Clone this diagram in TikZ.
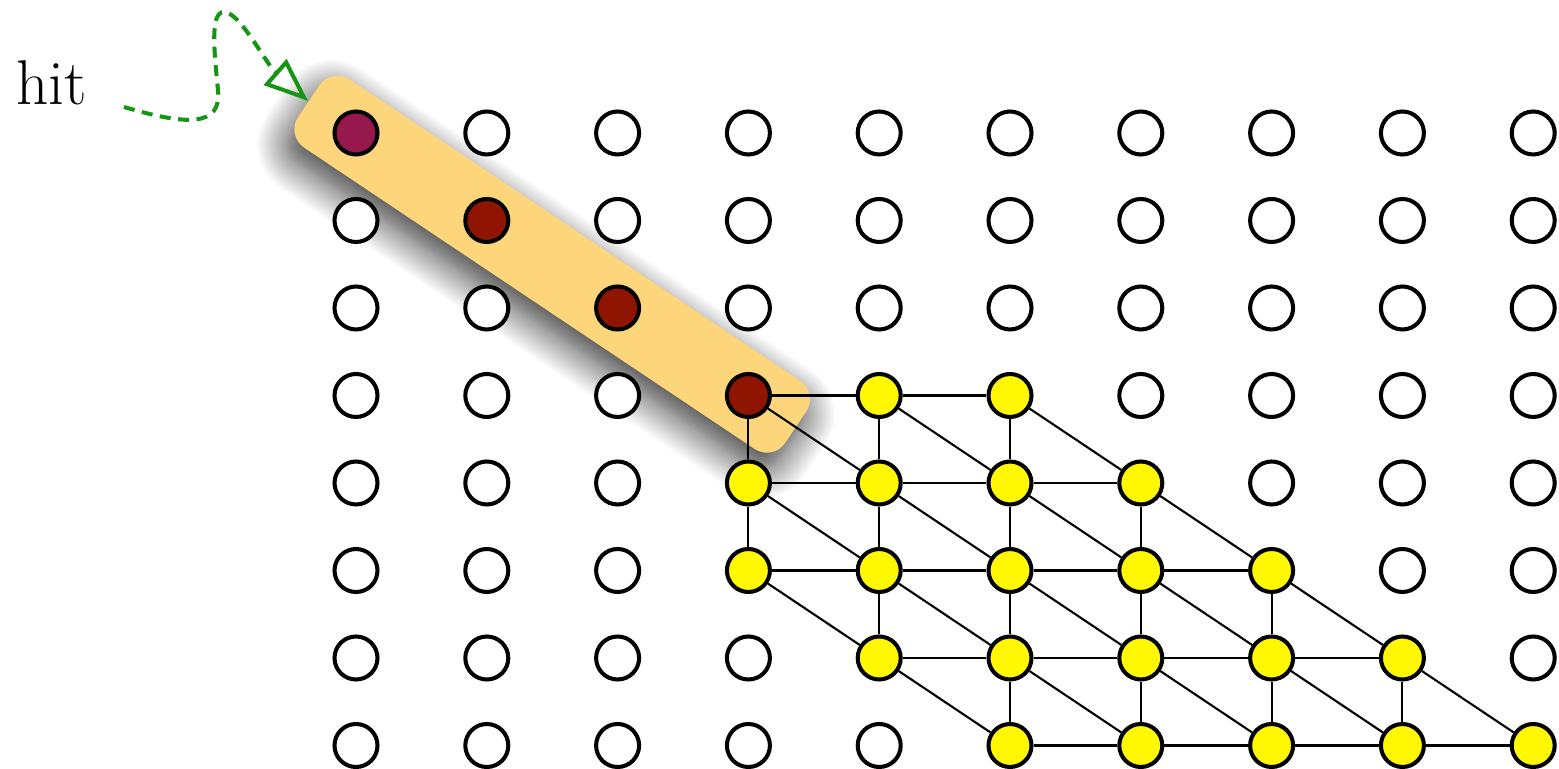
\documentclass[tikz,border=0pt]{standalone}
\usepackage{xcolor}
\usepackage{tikz}
\usetikzlibrary{arrows.meta,backgrounds,shadows.blur}
\definecolor{seedpurple}{RGB}{150,24,77}
\definecolor{hitred}{RGB}{144,21,0}
\definecolor{active}{RGB}{255,248,0}
\definecolor{bandorange}{RGB}{253,213,122}
\definecolor{hitgreen}{RGB}{20,150,20}

\begin{document}
\begin{tikzpicture}[
    site/.style={circle, draw, line width=1.15pt, minimum size=0.43cm, inner sep=0pt, fill=white},
    activesite/.style={site, fill=active},
    hitsite/.style={site, fill=hitred},
    seedsite/.style={site, fill=seedpurple},
    link/.style={draw, line width=0.6pt},
    hitband/.style={rectangle, fill=bandorange, rounded corners=0.22cm, minimum width=5.86cm, minimum height=0.82cm, inner sep=0pt, blur shadow={shadow xshift=-0.06cm, shadow yshift=-0.15cm, shadow blur radius=0.32cm, shadow opacity=80, shadow blur steps=24}},
    hitarrow/.style={-{Triangle[open, length=0.44cm, width=0.34cm]}, line width=1.15pt, draw=hitgreen, dash pattern=on 0.11cm off 0.075cm},
]
\useasboundingbox (0,0) rectangle (15.59,-7.69);

% === GRID OF SITES ===
\foreach \c in {0,...,9}{
  \foreach \r in {0,...,7}{
    \def\kind{site}
    \ifnum\r>2 \ifnum\c>2
      \pgfmathtruncatemacro\lo{\r-\c}
      \ifnum\lo<3 \ifnum\c<\numexpr\r+3\relax \def\kind{activesite}\fi\fi
    \fi\fi
    \ifnum\c=\r \ifnum\c<4 \def\kind{hitsite}\fi\fi
    \ifnum\c=0 \ifnum\r=0 \def\kind{seedsite}\fi\fi
    \node[\kind] (n-\c-\r) at (3.56+\c*1.308, -1.33-\r*0.875) {};
  }
}

% === HORIZONTAL LINKS ===
\foreach \r/\a/\b in {3/3/5,4/3/6,5/3/7,6/4/8,7/5/9}{
  \pgfmathtruncatemacro\bb{\b-1}
  \foreach \c in {\a,...,\bb}{
    \pgfmathtruncatemacro\cc{\c+1}
    \draw[link] (n-\c-\r) -- (n-\cc-\r);
  }
}

% === DIAGONAL AND VERTICAL LINKS ===
\foreach \r/\a/\b/\va/\vb in {3/3/5/3/5,4/3/6/3/6,5/3/7/4/7,6/4/8/5/8}{
  \pgfmathtruncatemacro\rr{\r+1}
  \foreach \c in {\a,...,\b}{
    \pgfmathtruncatemacro\cc{\c+1}
    \draw[link] (n-\c-\r) -- (n-\cc-\rr);
  }
  \foreach \c in {\va,...,\vb}{
    \draw[link] (n-\c-\r) -- (n-\c-\rr);
  }
}

% === BAND ===
\begin{scope}[on background layer]
\path (n-0-0.center) -- (n-3-3.center) node[midway, sloped, hitband] (band) {};
\end{scope}

% === HIT LABEL ===
\node[anchor=base, font=\fontsize{18}{21}\selectfont] (hit) at (0.515,-1.05) {hit};
\coordinate (hittail) at (1.24,-1.07);
\draw[hitarrow] (hittail) .. controls (1.85,-1.25) and (2.22,-1.28) .. (2.18,-0.9)
    .. controls (2.14,-0.5) and (2.10,-0.12) .. (2.24,-0.12)
    .. controls (2.40,-0.12) and (2.66,-0.64) .. (band.west);

\end{tikzpicture}
\end{document}
